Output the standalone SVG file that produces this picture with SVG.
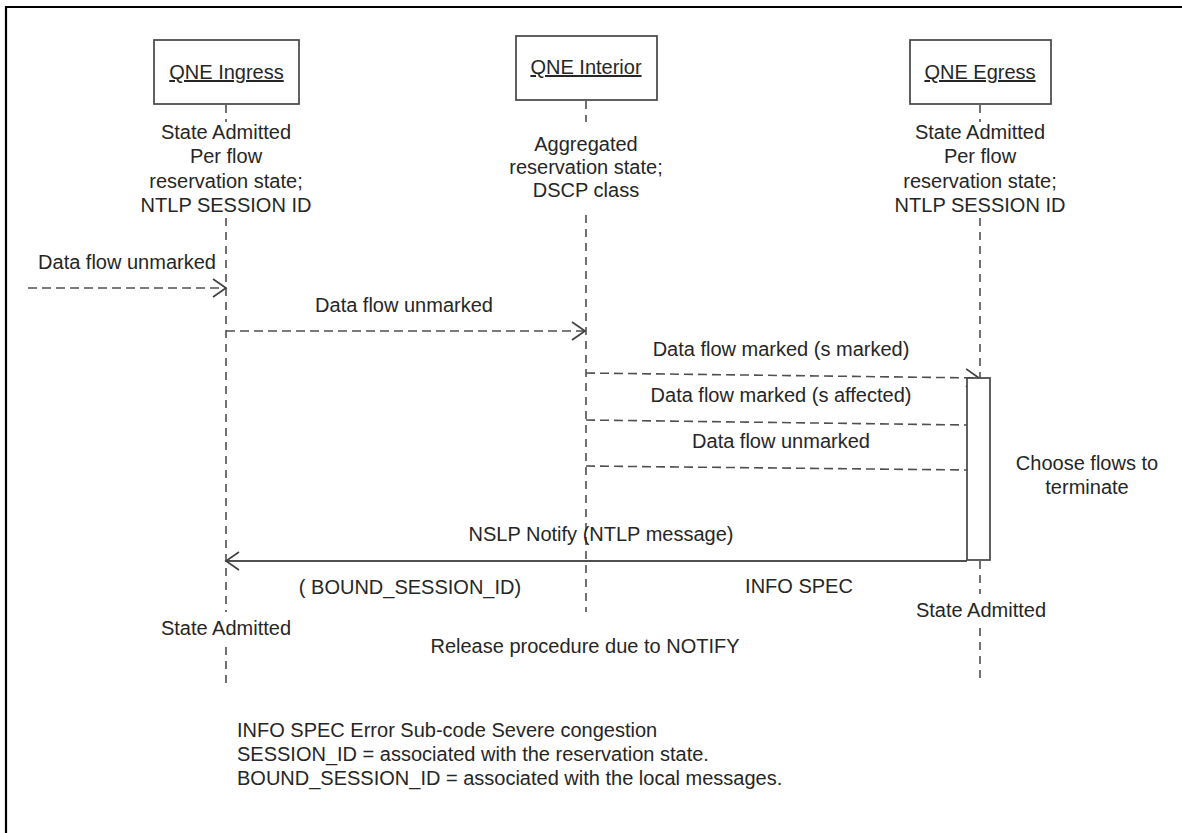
<svg xmlns="http://www.w3.org/2000/svg" width="1182" height="833" viewBox="0 0 1182 833">
  <style>
    text { font-family: "Liberation Sans", Arial, sans-serif; font-size: 20px; fill: #262626; }
    .c { text-anchor: middle; }
    .u { text-decoration: underline; }
    .box { fill: #ffffff; stroke: #454545; stroke-width: 1.7; }
    .life { stroke: #4f4f4f; stroke-width: 1.6; stroke-dasharray: 8 6; fill: none; }
    .dash { stroke: #4f4f4f; stroke-width: 1.6; stroke-dasharray: 9 5; fill: none; }
    .solid { stroke: #4f4f4f; stroke-width: 2; fill: none; }
    .frame { stroke: #000000; stroke-width: 2.2; fill: none; }
  </style>
  <defs>
    <marker id="open" viewBox="-15 -11 17 22" refX="0" refY="0" markerWidth="17" markerHeight="22" markerUnits="userSpaceOnUse" orient="auto">
      <path d="M-13,-9 L0,0 L-13,9" fill="none" stroke="#404040" stroke-width="1.7" stroke-dasharray="none"/>
    </marker>
  </defs>

  <rect width="1182" height="833" fill="#ffffff"/>
  <!-- outer frame -->
  <path class="frame" d="M6,845 V7 H1190"/>

  <!-- lifelines -->
  <g id="lifelines">
    <line class="life" x1="226" y1="105" x2="226" y2="122"/>
    <line class="life" x1="226" y1="218" x2="226" y2="612"/>
    <line class="life" x1="226" y1="647" x2="226" y2="684"/>
    <line class="life" x1="586" y1="101" x2="586" y2="122"/>
    <line class="life" x1="586" y1="215" x2="586" y2="612"/>
    <line class="life" x1="980" y1="105" x2="980" y2="122"/>
    <line class="life" x1="980" y1="218" x2="980" y2="378"/>
    <line class="life" x1="980" y1="561" x2="980" y2="594"/>
    <line class="life" x1="980" y1="628" x2="980" y2="684"/>
  </g>

  <!-- nodes -->
  <g id="qne-ingress">
    <rect class="box" x="154" y="40" width="145" height="64"/>
    <text class="c u" x="226.5" y="79">QNE Ingress</text>
    <text class="c" x="226" y="139">State Admitted</text>
    <text class="c" x="226" y="163">Per flow</text>
    <text class="c" x="226" y="188">reservation state;</text>
    <text class="c" x="226" y="212">NTLP SESSION ID</text>
    <text class="c" x="226" y="635">State Admitted</text>
  </g>
  <g id="qne-interior">
    <rect class="box" x="516" y="36" width="141" height="64"/>
    <text class="c u" x="586" y="74">QNE Interior</text>
    <text class="c" x="586" y="151">Aggregated</text>
    <text class="c" x="586" y="174">reservation state;</text>
    <text class="c" x="586" y="197">DSCP class</text>
  </g>
  <g id="qne-egress">
    <rect class="box" x="910" y="40" width="141" height="64"/>
    <text class="c u" x="980" y="79">QNE Egress</text>
    <text class="c" x="980" y="139">State Admitted</text>
    <text class="c" x="980" y="163">Per flow</text>
    <text class="c" x="980" y="188">reservation state;</text>
    <text class="c" x="980" y="212">NTLP SESSION ID</text>
    <text class="c" x="981" y="617">State Admitted</text>
  </g>

  <!-- messages -->
  <g id="connectors">
    <line class="dash" x1="28" y1="288" x2="226" y2="288" marker-end="url(#open)"/>
    <line class="dash" x1="226" y1="331" x2="585" y2="331" marker-end="url(#open)"/>
    <line class="dash" x1="586" y1="373" x2="979" y2="378" marker-end="url(#open)"/>
    <line class="dash" x1="586" y1="420" x2="967" y2="425"/>
    <line class="dash" x1="586" y1="466" x2="967" y2="470"/>
    <line class="solid" x1="967" y1="561" x2="226" y2="561" marker-end="url(#open)"/>
  </g>

  <!-- activation on the egress lifeline -->
  <g id="egress-activation">
    <rect class="box" x="967" y="378" width="23" height="182"/>
  </g>

  <!-- message labels -->
  <g id="labels">
    <text class="c" x="127" y="269">Data flow unmarked</text>
    <text class="c" x="404" y="312">Data flow unmarked</text>
    <text class="c" x="781" y="356">Data flow marked (s marked)</text>
    <text class="c" x="781" y="402">Data flow marked (s affected)</text>
    <text class="c" x="781" y="448">Data flow unmarked</text>
    <text class="c" x="601" y="541">NSLP Notify (NTLP message)</text>
    <text class="c" x="410" y="594">( BOUND_SESSION_ID)</text>
    <text class="c" x="799" y="593">INFO SPEC</text>
    <text class="c" x="1087" y="470">Choose flows to</text>
    <text class="c" x="1087" y="494">terminate</text>
    <text class="c" x="585" y="653">Release procedure due to NOTIFY</text>
  </g>

  <!-- notes -->
  <g id="notes">
    <text x="237" y="737">INFO SPEC Error Sub-code Severe congestion</text>
    <text x="237" y="761">SESSION_ID = associated with the reservation state.</text>
    <text x="237" y="785">BOUND_SESSION_ID = associated with the local messages.</text>
  </g>
</svg>
